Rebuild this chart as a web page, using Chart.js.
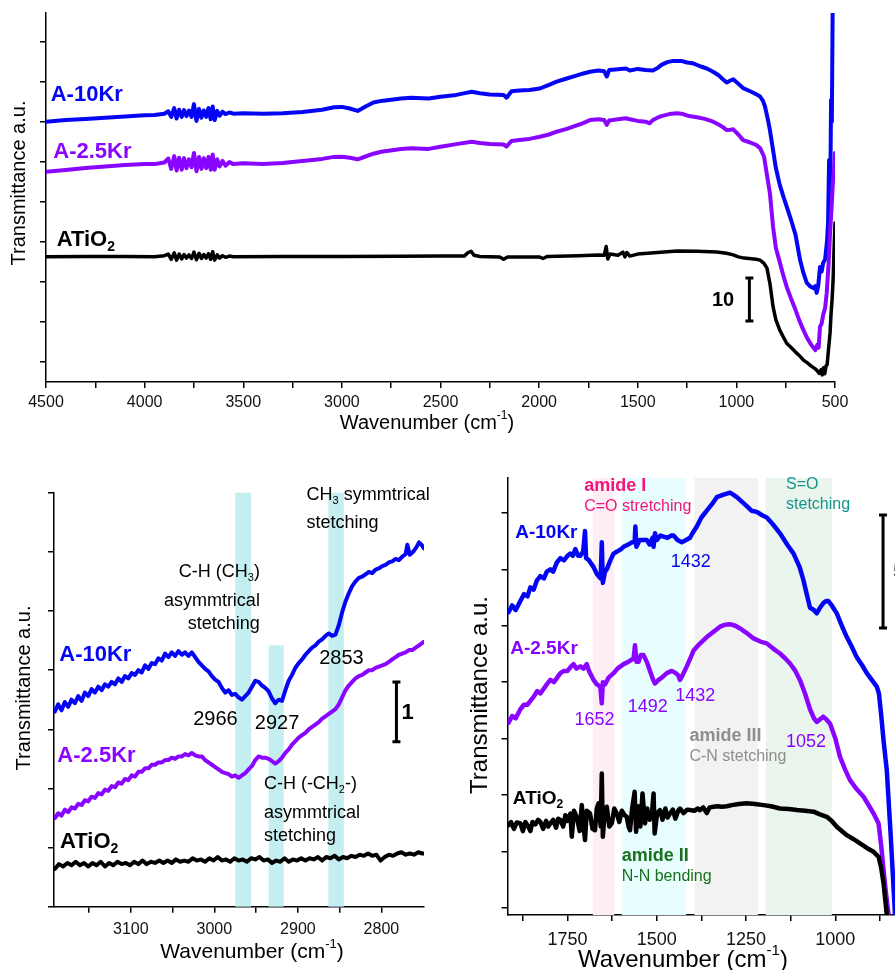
<!DOCTYPE html>
<html>
<head>
<meta charset="utf-8">
<script src="https://cdn.jsdelivr.net/npm/chart.js@4.4.0/dist/chart.umd.min.js"></script>
<style>
  html, body { margin: 0; padding: 0; background: #fff; }
  #wrap { position: relative; width: 895px; height: 970px; overflow: hidden; }
  canvas { position: absolute; left: 0; top: 0; }
</style>
</head>
<body>
<div id="wrap">
  <canvas id="top" width="895" height="970"></canvas>
  <canvas id="left" width="895" height="970"></canvas>
  <canvas id="right" width="895" height="970"></canvas>
</div>
<script>
// ---- data: [wavenumber, transmittance a.u.] ----
const topA10 = [[4500,60.0],[4400,60.4],[4300,60.7],[4200,61.0],[4100,61.3],[4000,61.6],[3950,61.7],[3900,62.0],[3880,62.6],[3865,61.2],[3850,63.4],[3838,60.8],[3825,63.0],[3812,61.2],[3800,62.9],[3788,61.4],[3775,62.8],[3762,61.2],[3750,64.4],[3737,60.2],[3724,63.2],[3712,61.0],[3700,62.8],[3688,61.2],[3676,63.4],[3665,60.6],[3655,63.8],[3645,60.4],[3632,62.7],[3620,61.5],[3605,62.5],[3590,61.9],[3570,62.3],[3550,62.0],[3500,62.1],[3400,62.0],[3300,62.1],[3200,62.4],[3100,63.0],[3040,63.6],[3000,63.7],[2960,63.3],[2920,62.7],[2880,63.8],[2840,64.8],[2800,65.2],[2700,65.8],[2650,66.0],[2560,65.8],[2500,66.25],[2420,66.7],[2370,67.2],[2342,67.5],[2300,67.1],[2250,66.8],[2180,66.7],[2165,66.0],[2140,67.6],[2100,67.8],[2050,67.9],[1996,68.3],[1950,69.2],[1911,70.0],[1860,70.8],[1820,71.4],[1780,72.0],[1742,72.5],[1700,72.8],[1670,72.6],[1657,71.3],[1645,72.9],[1600,73.1],[1560,73.3],[1540,72.8],[1500,73.2],[1460,72.9],[1423,72.8],[1400,73.4],[1380,74.2],[1350,74.9],[1321,75.2],[1280,75.2],[1250,74.8],[1220,74.6],[1180,73.8],[1150,73.3],[1118,72.5],[1090,71.6],[1070,70.7],[1049,69.8],[1030,70.3],[1016,70.6],[990,69.5],[966,68.4],[930,67.6],[900,66.9],[880,66.3],[865,65.2],[855,63.8],[840,60.5],[830,57.9],[814,52.9],[800,48.5],[780,44.2],[760,41.0],[745,38.8],[720,35.0],[700,31.7],[677,25.4],[660,22.2],[643,19.7],[625,18.8],[610,18.4],[600,18.9],[593,17.2],[585,19.0],[576,23.7],[568,22.5],[560,24.7],[550,25.6],[540,30.4],[535,35.0],[530,50.4],[524,42.0],[520,65.4],[516,60.0],[512,87.5],[505,100],[500,100]];
const topA25 = [[4500,47.5],[4400,47.9],[4300,48.4],[4200,48.8],[4100,49.2],[4000,49.4],[3950,49.4],[3900,49.8],[3880,50.8],[3865,48.2],[3850,51.4],[3838,47.8],[3825,51.0],[3812,48.0],[3800,50.9],[3788,48.4],[3775,50.6],[3762,48.6],[3750,52.2],[3737,47.6],[3724,51.2],[3712,48.2],[3700,50.9],[3688,48.4],[3676,51.2],[3665,48.0],[3655,51.8],[3645,48.0],[3632,50.6],[3620,48.8],[3605,50.2],[3590,49.0],[3570,49.9],[3550,49.4],[3500,49.6],[3400,49.4],[3300,49.7],[3200,50.2],[3100,50.7],[3040,51.2],[3000,51.25],[2960,51.0],[2920,50.6],[2880,51.3],[2840,52.0],[2800,52.5],[2700,53.2],[2650,53.35],[2560,53.2],[2500,53.75],[2420,54.4],[2342,55.0],[2300,54.7],[2250,54.4],[2180,54.3],[2165,53.8],[2140,55.2],[2100,55.4],[2050,55.7],[1996,56.25],[1950,56.8],[1911,57.5],[1860,58.2],[1820,58.9],[1780,59.6],[1742,60.4],[1700,60.6],[1670,60.4],[1657,59.2],[1645,60.3],[1600,60.6],[1560,60.85],[1540,60.6],[1500,60.2],[1460,60.0],[1440,59.6],[1423,60.4],[1400,61.0],[1380,61.4],[1340,61.9],[1300,62.1],[1270,61.9],[1240,61.4],[1200,61.1],[1160,60.7],[1118,60.0],[1090,59.3],[1070,58.7],[1049,57.9],[1030,58.0],[1016,58.1],[990,56.8],[966,55.4],[930,54.8],[900,54.2],[880,53.4],[860,51.3],[845,46.7],[830,42.1],[814,33.75],[800,28.5],[780,24.9],[760,21.2],[745,18.75],[720,15.4],[700,12.9],[680,10.2],[660,7.9],[640,5.8],[620,4.2],[600,2.9],[590,4.2],[583,3.5],[576,8.75],[568,9.5],[560,11.7],[550,13.5],[542,17.2],[533,24.0],[525,32.2],[518,38.0],[510,45.4],[505,48.0],[500,52.2]];
const topATiO2 = [[4500,26.25],[4300,26.3],[4100,26.3],[3950,26.25],[3900,26.5],[3880,26.9],[3865,25.6],[3850,27.2],[3838,25.4],[3825,26.9],[3812,25.7],[3800,26.8],[3788,25.9],[3775,26.7],[3762,25.8],[3750,27.4],[3737,25.5],[3724,27.1],[3712,25.8],[3700,26.8],[3688,25.9],[3676,27.0],[3665,25.6],[3655,27.5],[3645,25.4],[3632,26.7],[3620,25.9],[3605,26.5],[3590,26.1],[3570,26.4],[3550,26.25],[3300,26.3],[3000,26.3],[2700,26.35],[2500,26.4],[2380,26.4],[2360,27.3],[2345,27.6],[2330,26.6],[2300,26.3],[2200,26.2],[2180,25.6],[2160,26.2],[2000,26.2],[1980,25.8],[1960,26.3],[1800,26.5],[1700,26.7],[1670,26.6],[1660,28.8],[1652,25.7],[1640,26.9],[1600,26.6],[1575,27.4],[1565,26.2],[1555,27.3],[1540,26.4],[1500,26.9],[1400,27.3],[1300,27.7],[1200,27.6],[1100,27.4],[1050,27.1],[1016,26.7],[990,26.2],[960,25.9],[900,25.6],[880,25.4],[860,24.6],[845,23.4],[830,19.6],[814,13.75],[800,10.5],[780,7.9],[760,6.0],[745,4.6],[720,3.4],[700,2.4],[680,1.5],[660,0.4],[640,-0.3],[620,-1.1],[600,-1.8],[593,-2.1],[580,-2.9],[570,-2.0],[565,-3.3],[558,-1.5],[552,-3.0],[545,-1.0],[540,-0.8],[533,3.0],[525,7.2],[520,12.0],[515,15.4],[510,20.0],[505,27.9],[500,34.7]];

const chA10 = [[3191,3.30],[3187,3.42],[3183,3.32],[3179,3.46],[3175,3.38],[3171,3.50],[3167,3.44],[3163,3.56],[3159,3.48],[3155,3.62],[3151,3.56],[3147,3.68],[3143,3.62],[3139,3.72],[3135,3.66],[3131,3.76],[3127,3.72],[3123,3.80],[3119,3.76],[3115,3.86],[3111,3.80],[3107,3.90],[3103,3.86],[3099,3.95],[3095,3.92],[3091,4.00],[3087,3.96],[3083,4.08],[3079,4.02],[3075,4.12],[3071,4.10],[3067,4.20],[3063,4.16],[3059,4.28],[3055,4.22],[3051,4.30],[3047,4.24],[3043,4.32],[3039,4.26],[3035,4.30],[3031,4.24],[3027,4.30],[3023,4.22],[3019,4.14],[3015,4.08],[3011,4.02],[3007,3.98],[3003,3.90],[2999,3.84],[2995,3.80],[2991,3.70],[2987,3.62],[2983,3.66],[2979,3.58],[2975,3.60],[2971,3.54],[2967,3.50],[2963,3.56],[2959,3.62],[2955,3.72],[2951,3.82],[2947,3.80],[2943,3.74],[2939,3.70],[2935,3.64],[2931,3.52],[2927,3.44],[2923,3.50],[2919,3.48],[2915,3.66],[2911,3.82],[2907,3.92],[2903,4.04],[2899,4.12],[2895,4.18],[2891,4.26],[2887,4.32],[2883,4.38],[2879,4.42],[2875,4.48],[2871,4.52],[2867,4.58],[2863,4.62],[2859,4.58],[2855,4.60],[2851,4.76],[2847,4.98],[2843,5.16],[2839,5.30],[2835,5.42],[2831,5.50],[2827,5.56],[2823,5.58],[2819,5.62],[2815,5.66],[2811,5.64],[2807,5.70],[2803,5.72],[2799,5.76],[2795,5.78],[2791,5.82],[2787,5.84],[2783,5.88],[2779,5.86],[2775,5.92],[2771,5.96],[2769,6.12],[2766,5.95],[2762,6.00],[2758,6.08],[2755,6.16],[2752,6.12],[2749,6.06]];
const chA25 = [[3191,1.50],[3187,1.58],[3183,1.54],[3179,1.64],[3175,1.60],[3171,1.68],[3167,1.66],[3163,1.74],[3159,1.72],[3155,1.80],[3151,1.78],[3147,1.86],[3143,1.84],[3139,1.92],[3135,1.90],[3131,1.98],[3127,1.96],[3123,2.04],[3119,2.02],[3115,2.10],[3111,2.08],[3107,2.16],[3103,2.14],[3099,2.22],[3095,2.20],[3091,2.28],[3087,2.28],[3083,2.34],[3079,2.34],[3075,2.40],[3071,2.40],[3067,2.44],[3063,2.44],[3059,2.48],[3055,2.48],[3051,2.52],[3047,2.50],[3043,2.54],[3039,2.54],[3035,2.58],[3031,2.56],[3027,2.60],[3023,2.56],[3019,2.54],[3015,2.54],[3011,2.48],[3007,2.44],[3003,2.40],[2999,2.36],[2995,2.32],[2991,2.28],[2987,2.26],[2983,2.24],[2979,2.20],[2975,2.22],[2971,2.18],[2967,2.22],[2963,2.26],[2959,2.32],[2955,2.38],[2951,2.48],[2947,2.54],[2943,2.52],[2939,2.52],[2935,2.50],[2931,2.46],[2927,2.42],[2923,2.46],[2919,2.52],[2915,2.60],[2911,2.66],[2907,2.74],[2903,2.80],[2899,2.86],[2895,2.90],[2891,2.94],[2887,3.00],[2883,3.04],[2879,3.08],[2875,3.12],[2871,3.18],[2867,3.22],[2863,3.26],[2859,3.30],[2855,3.34],[2851,3.42],[2847,3.54],[2843,3.66],[2839,3.74],[2835,3.80],[2831,3.86],[2827,3.90],[2823,3.92],[2819,3.96],[2815,4.00],[2811,4.00],[2807,4.04],[2803,4.06],[2799,4.08],[2795,4.10],[2791,4.14],[2787,4.18],[2783,4.22],[2779,4.26],[2775,4.28],[2771,4.30],[2767,4.34],[2763,4.34],[2759,4.38],[2755,4.42],[2751,4.46],[2749,4.48]];
const chATiO2 = [[3191,0.64],[3186,0.72],[3181,0.68],[3176,0.74],[3171,0.70],[3166,0.76],[3161,0.70],[3156,0.74],[3151,0.68],[3146,0.74],[3141,0.70],[3136,0.76],[3131,0.68],[3126,0.74],[3121,0.70],[3116,0.76],[3111,0.72],[3106,0.74],[3101,0.70],[3096,0.76],[3091,0.72],[3086,0.78],[3081,0.72],[3076,0.76],[3071,0.74],[3066,0.78],[3061,0.74],[3056,0.78],[3051,0.74],[3046,0.80],[3041,0.76],[3036,0.78],[3031,0.76],[3026,0.82],[3021,0.78],[3016,0.80],[3011,0.76],[3006,0.82],[3001,0.78],[2996,0.84],[2991,0.78],[2986,0.80],[2981,0.76],[2976,0.82],[2971,0.78],[2966,0.80],[2961,0.76],[2956,0.82],[2951,0.80],[2946,0.84],[2941,0.78],[2936,0.80],[2931,0.74],[2926,0.78],[2921,0.76],[2916,0.82],[2911,0.76],[2906,0.80],[2901,0.78],[2896,0.82],[2891,0.78],[2886,0.82],[2881,0.80],[2876,0.84],[2871,0.78],[2866,0.84],[2861,0.82],[2856,0.86],[2851,0.80],[2846,0.84],[2841,0.82],[2836,0.86],[2831,0.84],[2826,0.88],[2821,0.86],[2816,0.90],[2811,0.86],[2806,0.88],[2801,0.78],[2796,0.84],[2791,0.88],[2786,0.86],[2781,0.90],[2776,0.92],[2771,0.88],[2766,0.90],[2761,0.88],[2756,0.92],[2751,0.90],[2749,0.90]];

const amA10 = [[1915,13.1],[1905,13.4],[1895,13.2],[1882,13.6],[1872,13.9],[1862,13.8],[1854,14.2],[1845,14.1],[1836,14.5],[1826,14.7],[1816,14.6],[1808,14.9],[1798,15.0],[1790,14.9],[1780,15.3],[1770,15.5],[1760,15.4],[1750,15.6],[1742,15.7],[1735,15.6],[1728,15.9],[1720,15.6],[1714,15.6],[1706,15.8],[1701,16.7],[1698,15.5],[1690,15.4],[1677,15.1],[1668,14.8],[1663,14.7],[1657,14.6],[1654,16.2],[1651,14.4],[1645,14.9],[1640,15.0],[1630,15.4],[1621,15.7],[1610,15.8],[1600,15.9],[1593,16.0],[1580,16.1],[1570,16.2],[1562,16.2],[1560,16.9],[1557,16.0],[1548,16.3],[1540,16.3],[1528,16.3],[1520,16.1],[1512,16.4],[1509,16.0],[1505,16.6],[1500,16.3],[1490,16.5],[1481,16.45],[1470,16.4],[1460,16.5],[1453,16.5],[1442,16.3],[1430,16.2],[1418,16.3],[1407,16.4],[1400,16.6],[1388,16.9],[1375,17.3],[1360,17.6],[1345,17.9],[1332,18.2],[1315,18.3],[1295,18.4],[1285,18.3],[1276,18.2],[1262,18.0],[1248,17.8],[1235,17.6],[1220,17.55],[1205,17.4],[1192,17.3],[1175,17.0],[1155,16.6],[1135,16.1],[1117,15.7],[1100,15.1],[1089,14.5],[1080,13.9],[1071,13.3],[1060,13.2],[1052,13.05],[1043,13.3],[1034,13.5],[1025,13.6],[1020,13.6],[1010,13.4],[996,13.05],[982,12.5],[968,12.0],[955,11.6],[940,11.1],[925,10.75],[912,10.4],[898,10.1],[884,9.8],[878,9.5],[872,8.6],[865,7.4],[856,6.1],[845,3.2],[833,-0.3],[826,-2.0]];
const amA25 = [[1915,8.2],[1905,8.5],[1895,8.4],[1882,8.8],[1872,9.0],[1862,9.0],[1845,9.35],[1835,9.6],[1826,9.5],[1808,9.9],[1798,10.1],[1788,10.0],[1770,10.4],[1760,10.5],[1750,10.5],[1740,10.7],[1733,10.8],[1725,10.6],[1714,10.7],[1705,10.6],[1696,10.8],[1690,10.5],[1677,10.1],[1668,9.9],[1658,9.8],[1654,9.06],[1651,10.0],[1645,9.9],[1635,10.2],[1621,10.4],[1610,10.6],[1593,10.8],[1580,10.9],[1565,11.05],[1561,11.64],[1557,10.9],[1551,10.9],[1545,11.2],[1537,11.2],[1528,10.9],[1519,10.5],[1510,10.1],[1505,9.94],[1495,10.1],[1486,10.2],[1472,10.4],[1458,10.5],[1447,10.4],[1440,10.3],[1435,10.1],[1428,10.3],[1416,10.7],[1405,11.1],[1397,11.4],[1380,11.7],[1360,12.0],[1340,12.25],[1323,12.46],[1308,12.55],[1295,12.57],[1280,12.5],[1267,12.38],[1250,12.2],[1229,11.94],[1210,11.8],[1192,11.72],[1175,11.5],[1155,11.27],[1140,11.05],[1127,10.83],[1112,10.5],[1099,10.09],[1085,9.5],[1071,8.8],[1060,8.4],[1052,8.24],[1043,8.35],[1034,8.47],[1025,8.35],[1015,8.17],[1000,7.5],[987,6.69],[972,6.1],[959,5.66],[940,5.25],[921,4.92],[905,4.5],[893,4.18],[879,3.74],[872,2.8],[865,1.67],[858,0.6],[851,-0.3],[846,-1.5]];
const amATiO2 = [[1915,3.66],[1908,3.8],[1900,3.5],[1892,3.78],[1882,3.74],[1875,3.4],[1868,3.8],[1860,3.6],[1854,3.4],[1848,3.8],[1840,3.7],[1832,3.9],[1826,3.81],[1818,3.5],[1810,3.85],[1804,3.6],[1798,3.74],[1790,3.9],[1782,3.55],[1776,3.95],[1770,3.89],[1762,3.6],[1756,4.1],[1750,3.85],[1742,4.18],[1738,3.15],[1732,4.3],[1724,4.03],[1716,3.4],[1710,4.55],[1705,3.6],[1701,3.0],[1696,4.3],[1687,4.18],[1680,3.5],[1673,3.44],[1668,4.4],[1663,4.63],[1657,3.6],[1654,5.95],[1651,3.15],[1646,4.2],[1640,4.48],[1633,3.6],[1626,3.74],[1619,4.4],[1612,4.18],[1605,3.8],[1598,4.3],[1590,4.1],[1584,4.03],[1579,3.6],[1575,3.44],[1569,4.4],[1562,5.14],[1558,3.37],[1552,4.5],[1546,3.6],[1540,5.07],[1533,3.74],[1527,4.4],[1520,3.9],[1513,4.3],[1509,5.07],[1506,3.29],[1499,4.2],[1491,4.33],[1484,3.9],[1476,4.4],[1470,4.0],[1463,4.18],[1455,4.35],[1448,3.95],[1440,4.3],[1435,4.4],[1425,4.2],[1415,4.35],[1407,4.33],[1395,4.3],[1385,4.4],[1379,4.33],[1370,4.45],[1360,4.2],[1352,4.45],[1341,4.48],[1330,4.5],[1318,4.48],[1304,4.5],[1290,4.55],[1270,4.6],[1248,4.63],[1225,4.6],[1201,4.55],[1180,4.5],[1155,4.4],[1130,4.38],[1108,4.33],[1085,4.3],[1061,4.26],[1045,4.15],[1024,4.03],[1010,3.85],[996,3.59],[982,3.4],[968,3.22],[950,3.05],[931,2.85],[912,2.65],[893,2.48],[879,2.26],[872,1.8],[865,1.08],[856,-0.3],[851,-1.3]];

// tick values
const topXLabels = [4500, 4000, 3500, 3000, 2500, 2000, 1500, 1000, 500];
const topXMinor = [4250, 3750, 3250, 2750, 2250, 1750, 1250, 750];
const topYTicks = [0, 10, 20, 30, 40, 50, 60, 70, 80];
const chXLabels = [3100, 3000, 2900, 2800];
const chXMinor = [3150, 3050, 2950, 2850];
const chYTicks = [0, 1, 2, 3, 4, 5, 6, 7];
const amXLabels = [1750, 1500, 1250, 1000];
const amXMinor = [1875, 1625, 1375, 1125, 875];
const amYTicks = [0, 2.5, 5, 7.5, 10, 12.5, 15, 17.5];

const FONT = '"Liberation Sans", Arial, sans-serif';
const BLUE = '#0505f5';
const PURPLE = '#8a05ff';
const BLACK = '#000000';

// text with _{sub} and ^{sup}
function richParts(str) {
  const out = [];
  const re = /([_^])\{([^}]*)\}/g;
  let last = 0, m;
  while ((m = re.exec(str))) {
    if (m.index > last) out.push({ t: str.slice(last, m.index), k: '' });
    out.push({ t: m[2], k: m[1] });
    last = re.lastIndex;
  }
  if (last < str.length) out.push({ t: str.slice(last), k: '' });
  return out;
}

function drawRich(ctx, str, x, y, o) {
  const size = o.size;
  const w = o.bold ? 'bold ' : '';
  const parts = richParts(str);
  const fontFor = k => w + (k ? Math.round(size * 0.62) : size) + 'px ' + FONT;
  let total = 0;
  parts.forEach(p => { ctx.font = fontFor(p.k); p.w = ctx.measureText(p.t).width; total += p.w; });
  let cx = o.align === 'right' ? x - total : o.align === 'center' ? x - total / 2 : x;
  ctx.fillStyle = o.color || '#000';
  ctx.textBaseline = 'middle';
  ctx.textAlign = 'left';
  parts.forEach(p => {
    ctx.font = fontFor(p.k);
    const dy = p.k === '_' ? size * 0.34 : p.k === '^' ? -size * 0.38 : 0;
    ctx.fillText(p.t, cx, y + dy);
    cx += p.w;
  });
}

// shaded bands, scale bars, labels, axis titles
const decor = {
  top: {
    bands: [],
    bars: [{ x: 934, from: 10.2, to: 20.9 }],
    notes: [
      { text: 'A-10Kr', x: 4476, y: 66.7, size: 22, bold: true, color: BLUE },
      { text: 'A-2.5Kr', x: 4463, y: 52.4, size: 22, bold: true, color: PURPLE },
      { text: 'ATiO_{2}', x: 4446, y: 30.4, size: 22, bold: true, color: BLACK },
      { text: '10', x: 1124, y: 15.4, size: 20, bold: true, color: BLACK }
    ],
    titles: [
      { text: 'Wavenumber (cm^{-1})', px: 427, py: 423, size: 20 },
      { text: 'Transmittance a.u.', px: 19, py: 183, size: 20, rotate: true }
    ]
  },
  left: {
    bands: [
      { from: 2975, to: 2956, color: '#c4eef0' },
      { from: 2935, to: 2917, top: 4.42, color: '#c4eef0' },
      { from: 2863.5, to: 2845, color: '#c4eef0' }
    ],
    bars: [{ x: 2782, from: 2.79, to: 3.80 }],
    notes: [
      { text: 'A-10Kr', x: 3185.7, y: 4.26, size: 22, bold: true, color: BLUE },
      { text: 'A-2.5Kr', x: 3188, y: 2.55, size: 22, bold: true, color: PURPLE },
      { text: 'ATiO_{2}', x: 3184.8, y: 1.10, size: 22, bold: true, color: BLACK },
      { text: 'C-H (CH_{3})', x: 2945.5, y: 5.66, size: 18, align: 'right' },
      { text: 'asymmtrical', x: 2945.5, y: 5.17, size: 18, align: 'right' },
      { text: 'stetching', x: 2945.5, y: 4.78, size: 18, align: 'right' },
      { text: 'CH_{3} symmtrical', x: 2889.6, y: 6.96, size: 18 },
      { text: 'stetching', x: 2889.6, y: 6.48, size: 18 },
      { text: '2966', x: 3025.3, y: 3.17, size: 20 },
      { text: '2927', x: 2951.5, y: 3.10, size: 20 },
      { text: '2853', x: 2874.5, y: 4.20, size: 20 },
      { text: 'C-H (-CH_{2}-)', x: 2940.7, y: 2.07, size: 18 },
      { text: 'asymmtrical', x: 2940.7, y: 1.59, size: 18 },
      { text: 'stetching', x: 2940.7, y: 1.20, size: 18 },
      { text: '1', x: 2776, y: 3.27, size: 22, bold: true }
    ],
    titles: [
      { text: 'Wavenumber (cm^{-1})', px: 252, py: 952, size: 21 },
      { text: 'Transmittance a.u.', px: 24, py: 688, size: 20, rotate: true }
    ]
  },
  right: {
    bands: [
      { from: 1679, to: 1619, color: '#fdeef5' },
      { from: 1598, to: 1418, color: '#e8fdfd' },
      { from: 1394.5, to: 1217, color: '#f2f2f2' },
      { from: 1195, to: 1010, color: '#eaf5ee' }
    ],
    bars: [{ x: 866.5, from: 12.40, to: 17.41 }],
    notes: [
      { text: 'amide I', x: 1703.3, y: 18.69, size: 18, bold: true, color: '#f2157b' },
      { text: 'C=O stretching', x: 1703.3, y: 17.77, size: 16, color: '#f2157b' },
      { text: 'S=O', x: 1138, y: 18.74, size: 16, color: '#15948c' },
      { text: 'stetching', x: 1138, y: 17.85, size: 16, color: '#15948c' },
      { text: 'A-10Kr', x: 1896.4, y: 16.62, size: 19, bold: true, color: BLUE },
      { text: '1432', x: 1460.7, y: 15.34, size: 18, color: BLUE },
      { text: 'A-2.5Kr', x: 1910.4, y: 11.47, size: 19, bold: true, color: PURPLE },
      { text: '1652', x: 1730.4, y: 8.32, size: 18, color: PURPLE },
      { text: '1492', x: 1581.1, y: 8.91, size: 18, color: PURPLE },
      { text: '1432', x: 1448.6, y: 9.38, size: 18, color: PURPLE },
      { text: 'amide III', x: 1408.5, y: 7.61, size: 18, bold: true, color: '#8e8e8e' },
      { text: 'C-N stetching', x: 1408.5, y: 6.69, size: 16, color: '#8e8e8e' },
      { text: '1052', x: 1138, y: 7.36, size: 18, color: PURPLE },
      { text: 'ATiO_{2}', x: 1903, y: 4.85, size: 19, bold: true, color: BLACK },
      { text: 'amide II', x: 1597.9, y: 2.29, size: 18, bold: true, color: '#17701d' },
      { text: 'N-N bending', x: 1597.9, y: 1.37, size: 16, color: '#17701d' },
      { text: '5', x: 838, y: 14.88, size: 22, bold: true }
    ],
    titles: [
      { text: 'Wavenumber (cm^{-1})', px: 683, py: 960, size: 24 },
      { text: 'Transmittance a.u.', px: 480, py: 695, size: 24, rotate: true }
    ]
  }
};

const decorPlugin = {
  id: 'decor',
  beforeDatasetsDraw(chart) {
    const d = decor[chart.canvas.id];
    const { ctx, chartArea: a, scales: { x, y } } = chart;
    ctx.save();
    d.bands.forEach(b => {
      const x1 = x.getPixelForValue(b.from), x2 = x.getPixelForValue(b.to);
      const yTop = b.top !== undefined ? y.getPixelForValue(b.top) : a.top;
      ctx.fillStyle = b.color;
      ctx.fillRect(Math.min(x1, x2), yTop, Math.abs(x2 - x1), a.bottom - yTop);
    });
    ctx.restore();
  },
  afterDraw(chart) {
    const d = decor[chart.canvas.id];
    const { ctx, scales: { x, y } } = chart;
    ctx.save();
    d.bars.forEach(b => {
      const px = x.getPixelForValue(b.x);
      const y1 = y.getPixelForValue(b.from), y2 = y.getPixelForValue(b.to);
      ctx.strokeStyle = '#000';
      ctx.lineWidth = 3;
      ctx.beginPath();
      ctx.moveTo(px, y1); ctx.lineTo(px, y2);
      ctx.moveTo(px - 4, y1); ctx.lineTo(px + 4, y1);
      ctx.moveTo(px - 4, y2); ctx.lineTo(px + 4, y2);
      ctx.stroke();
    });
    d.notes.forEach(n => drawRich(ctx, n.text, x.getPixelForValue(n.x), y.getPixelForValue(n.y), n));
    d.titles.forEach(t => {
      ctx.save();
      ctx.translate(t.px, t.py);
      if (t.rotate) ctx.rotate(-Math.PI / 2);
      drawRich(ctx, t.text, 0, 0, { size: t.size, align: 'center', color: '#000' });
      ctx.restore();
    });
    ctx.restore();
  }
};

const axisLine = {
  grid: { drawOnChartArea: false, drawTicks: true, tickLength: 6, color: '#000', lineWidth: 1.5 },
  border: { display: true, color: '#000', width: 1.5 }
};

function xAxis(min, max, labels, minor, size, pad, height) {
  const all = labels.concat(minor).sort((a, b) => a - b);
  return Object.assign({
    type: 'linear', reverse: true, min, max,
    afterBuildTicks: s => { s.ticks = all.map(v => ({ value: v })); },
    afterFit: s => { s.height = height; },
    ticks: {
      autoSkip: false, maxRotation: 0, padding: pad, color: '#111',
      font: { family: FONT, size },
      callback: v => labels.includes(v) ? String(v) : ''
    }
  }, axisLine);
}

function yAxis(min, max, ticks, width) {
  return Object.assign({
    type: 'linear', min, max,
    afterBuildTicks: s => { s.ticks = ticks.map(v => ({ value: v })); },
    afterFit: s => { s.width = width; },
    ticks: { display: false }
  }, axisLine);
}

function series(points, color, width) {
  return {
    data: points.map(p => ({ x: p[0], y: p[1] })),
    borderColor: color, borderWidth: width,
    pointRadius: 0, tension: 0, fill: false,
    borderJoinStyle: 'round', borderCapStyle: 'round'
  };
}

function makeChart(id, datasets, scales, padding) {
  new Chart(document.getElementById(id), {
    type: 'line',
    data: { datasets },
    options: {
      responsive: false,
      animation: false,
      events: [],
      layout: { padding },
      plugins: { legend: { display: false }, tooltip: { enabled: false } },
      scales
    },
    plugins: [decorPlugin]
  });
}

makeChart('top',
  [series(topATiO2, BLACK, 3.5), series(topA25, PURPLE, 4), series(topA10, BLUE, 4)],
  { x: xAxis(500, 4500, topXLabels, topXMinor, 16, 5, 60), y: yAxis(-5.075, 87.175, topYTicks, 46) },
  { left: 0, top: 13, right: 60, bottom: 528 });

makeChart('left',
  [series(chATiO2, BLACK, 4), series(chA25, PURPLE, 4), series(chA10, BLUE, 4)],
  { x: xAxis(2749, 3192, chXLabels, chXMinor, 16, 7, 48), y: yAxis(0, 7, chYTicks, 54) },
  { left: 0, top: 492.7, right: 471, bottom: 15.3 });

makeChart('right',
  [series(amATiO2, BLACK, 4.5), series(amA25, PURPLE, 4.5), series(amA10, BLUE, 4.5)],
  { x: xAxis(833, 1918, amXLabels, amXMinor, 18, 8, 40), y: yAxis(-0.32, 19.05, amYTicks, 507.5) },
  { left: 0, top: 478, right: 0, bottom: 15 });
</script>
</body>
</html>
